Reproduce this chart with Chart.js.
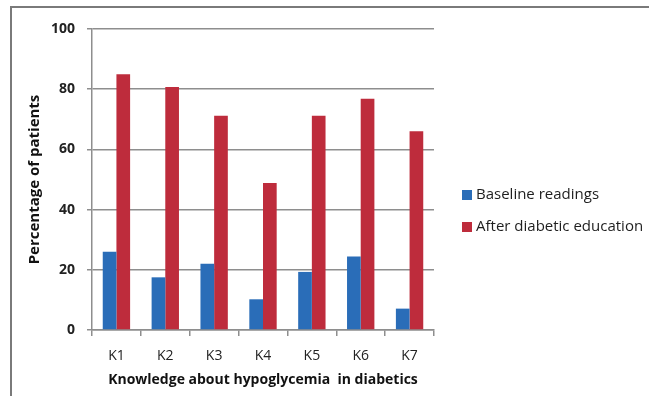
<!DOCTYPE html>
<html>
<head>
<meta charset="utf-8">
<script src="https://cdn.jsdelivr.net/npm/chart.js@4/dist/chart.umd.min.js"></script>
<style>
  html, body { margin: 0; padding: 0; background: #ffffff; }
  #wrap { width: 649px; height: 396px; position: relative; }
</style>
</head>
<body>
<div id="wrap"><canvas id="chart" width="649" height="396"></canvas></div>
<script>
// Knowledge items surveyed
const categories = ['K1', 'K2', 'K3', 'K4', 'K5', 'K6', 'K7'];
// Percentage of patients answering correctly
const baselineReadings = [26, 17.5, 22, 10.2, 19.3, 24.4, 7.1];
const afterEducation = [85, 80.7, 71.2, 48.8, 71.2, 76.8, 66];
const seriesNames = ['Baseline readings', 'After diabetic education'];
const yTicks = [0, 20, 40, 60, 80, 100];

const FONT = '"Open Sans", Lato, "Liberation Sans", sans-serif';
const BLUE = '#2a6db8';
const RED = '#be2c3c';
const GRID = '#8e8e8e';

// Outer frame (top and left edges of the chart box)
const framePlugin = {
  id: 'frame',
  beforeDraw(chart) {
    const ctx = chart.ctx;
    ctx.save();
    ctx.strokeStyle = '#7a7a7a';
    ctx.lineWidth = 2;
    ctx.beginPath();
    ctx.moveTo(11, 396);
    ctx.lineTo(11, 7);
    ctx.lineTo(649, 7);
    ctx.stroke();
    ctx.restore();
  }
};

// Legend on the right, built from the dataset labels and colours
const sideLegend = {
  id: 'sideLegend',
  afterDraw(chart) {
    const ctx = chart.ctx;
    ctx.save();
    ctx.font = '15px ' + FONT;
    ctx.textBaseline = 'middle';
    ctx.textAlign = 'left';
    const x0 = chart.chartArea.right + 28;
    let y = 195;
    chart.data.datasets.forEach(ds => {
      ctx.fillStyle = ds.backgroundColor;
      ctx.fillRect(x0, y - 5, 10, 10);
      ctx.fillStyle = '#1e1e1e';
      ctx.fillText(ds.label, x0 + 14, y);
      y += 32;
    });
    ctx.restore();
  }
};

new Chart(document.getElementById('chart'), {
  type: 'bar',
  data: {
    labels: categories,
    datasets: [
      { label: seriesNames[0], data: baselineReadings, backgroundColor: BLUE },
      { label: seriesNames[1], data: afterEducation, backgroundColor: RED }
    ]
  },
  options: {
    responsive: false,
    animation: false,
    layout: { padding: { left: 0, top: 29, right: 215, bottom: 0 } },
    datasets: { bar: { categoryPercentage: 0.56, barPercentage: 1.0 } },
    plugins: { legend: { display: false }, tooltip: { enabled: false } },
    scales: {
      x: {
        offset: true,
        grid: { offset: true, drawOnChartArea: false, color: GRID, lineWidth: 1.5, tickLength: 6 },
        border: { color: GRID, width: 1.5 },
        ticks: { color: '#222', font: { family: FONT, size: 14 }, padding: 12 },
        title: {
          display: true,
          text: 'Knowledge about hypoglycemia  in diabetics',
          color: '#111',
          font: { family: FONT, size: 14, weight: 'bold' },
          padding: { top: 0, bottom: 8 }
        },
        afterFit(scale) { scale.height = 66; }
      },
      y: {
        min: 0,
        max: 100,
        afterBuildTicks(scale) { scale.ticks = yTicks.map(v => ({ value: v })); },
        grid: { color: GRID, lineWidth: 1.5, tickLength: 5 },
        border: { color: GRID, width: 1.5 },
        ticks: { color: '#222', font: { family: FONT, size: 14, weight: 'bold' }, padding: 12 },
        title: {
          display: true,
          text: 'Percentage of patients',
          color: '#111',
          font: { family: FONT, size: 15, weight: 'bold' },
          padding: { top: 26, bottom: 0 }
        },
        afterFit(scale) { scale.width = 92; }
      }
    }
  },
  plugins: [framePlugin, sideLegend]
});
</script>
</body>
</html>
